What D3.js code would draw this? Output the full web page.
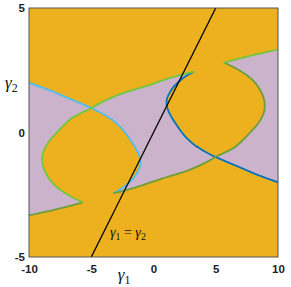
<!DOCTYPE html>
<html>
<head>
<meta charset="utf-8">
<script src="https://cdn.jsdelivr.net/npm/d3@7"></script>
<style>
  body { margin: 0; background: #fff; }
  svg { display: block; }
</style>
</head>
<body>
<script>
// tick labels
var gamma1Ticks = [-10, -5, 0, 5, 10];
var gamma2Ticks = [-5, 0, 5];

// left-hand boundary curves (the right-hand ones are the point reflection)
// light blue curve, left edge -> crossing
var blueOuterX = [-10, -8.31, -6.71, -4.96];
var blueOuterY = [2.0, 1.69, 1.35, 0.98];
// light blue curve, crossing -> meeting point with the lower green line
var blueInnerX = [-4.96, -4.34, -3.78, -3.29, -2.73, -2.25, -1.85, -1.49, -1.20, -1.06, -1.08, -1.29, -1.61, -2.09, -2.61, -3.23];
var blueInnerY = [0.98, 0.82, 0.66, 0.50, 0.26, -0.02, -0.30, -0.58, -0.86, -1.10, -1.35, -1.59, -1.83, -2.07, -2.27, -2.44];
// green curve, crossing -> upper end
var greenUpperX = [-4.96, -4.30, -2.85, -0.68, 1.33, 3.23];
var greenUpperY = [0.98, 1.18, 1.51, 1.85, 2.19, 2.44];
// green curve, crossing -> round the loop -> cusp
var greenLoopX = [-4.96, -6.55, -7.27, -7.79, -8.31, -8.67, -8.92, -8.92, -8.76, -8.47, -8.03, -7.47, -6.71, -5.66];
var greenLoopY = [0.98, 0.58, 0.26, -0.02, -0.30, -0.58, -0.90, -1.22, -1.51, -1.79, -2.07, -2.31, -2.55, -2.81];
// green tail, cusp -> left edge
var greenTailX = [-5.66, -7.83, -10];
var greenTailY = [-2.81, -3.09, -3.33];

// the gamma1 = gamma2 line
var diagX = [-5, 5];
var diagY = [-5, 5];

var W = 291, H = 287;
var ORANGE = '#EDB120', PURPLE = '#CBB3CC';
var LIGHTBLUE = '#4DBEEE', DARKBLUE = '#0072BD';
var GREEN = '#72C83C', OLIVE = '#6C9E3A';

var x = d3.scaleLinear().domain([-10, 10]).range([29, 278]);
var y = d3.scaleLinear().domain([-5, 5]).range([257, 8]);

function pts(xs, ys) { return xs.map(function(v, i) { return [v, ys[i]]; }); }
function flip(p) { return p.map(function(d) { return [-d[0], -d[1]]; }); }
function rev(p) { return p.slice().reverse(); }

var blueOuter = pts(blueOuterX, blueOuterY);
var blueInner = pts(blueInnerX, blueInnerY);
var greenUpper = pts(greenUpperX, greenUpperY);
var greenLoop = pts(greenLoopX, greenLoopY);
var greenTail = pts(greenTailX, greenTailY);

var line = d3.line()
  .x(function(d) { return x(d[0]); })
  .y(function(d) { return y(d[1]); })
  .curve(d3.curveCatmullRom.alpha(0.5));

// join several curve pieces into one closed path, keeping the corners
function region(pieces) {
  var p = d3.path(), first = true;
  var ctx = {
    moveTo: function(a, b) { if (first) p.moveTo(a, b); else p.lineTo(a, b); first = false; },
    lineTo: function(a, b) { p.lineTo(a, b); },
    bezierCurveTo: function(a, b, c, d, e, f) { p.bezierCurveTo(a, b, c, d, e, f); },
    closePath: function() {}
  };
  line.context(ctx);
  pieces.forEach(function(piece) { line(piece); });
  line.context(null);
  p.closePath();
  return p.toString();
}

var svg = d3.select('body').append('svg')
  .attr('width', W)
  .attr('height', H);

svg.append('defs').append('clipPath').attr('id', 'plot')
  .append('rect')
    .attr('x', x(-10)).attr('y', y(5))
    .attr('width', x(10) - x(-10)).attr('height', y(-5) - y(5));

var g = svg.append('g').attr('clip-path', 'url(#plot)');

g.append('rect')
  .attr('x', x(-10)).attr('y', y(5))
  .attr('width', x(10) - x(-10)).attr('height', y(-5) - y(5))
  .attr('fill', ORANGE);

var leftRegion = [blueOuter, greenLoop, greenTail];
var midRegion = [greenUpper, rev(flip(blueInner)), flip(greenUpper), rev(blueInner)];
var rightRegion = leftRegion.map(flip);

g.selectAll('path.region')
    .data([leftRegion, midRegion, rightRegion])
  .enter().append('path')
    .attr('class', 'region')
    .attr('d', region)
    .attr('fill', PURPLE);

var curves = [
  { p: blueOuter, c: LIGHTBLUE },
  { p: blueInner, c: LIGHTBLUE },
  { p: flip(blueOuter), c: DARKBLUE },
  { p: flip(blueInner), c: DARKBLUE },
  { p: flip(greenUpper), c: OLIVE },
  { p: flip(greenLoop), c: OLIVE },
  { p: greenTail, c: OLIVE },
  { p: greenUpper, c: GREEN },
  { p: greenLoop, c: GREEN },
  { p: flip(greenTail), c: GREEN }
];

g.selectAll('path.curve')
    .data(curves)
  .enter().append('path')
    .attr('class', 'curve')
    .attr('d', function(d) { return line(d.p); })
    .attr('fill', 'none')
    .attr('stroke', function(d) { return d.c; })
    .attr('stroke-width', 1.8)
    .attr('stroke-linejoin', 'round');

g.append('path')
  .attr('d', d3.line().x(function(d) { return x(d[0]); }).y(function(d) { return y(d[1]); })(pts(diagX, diagY)))
  .attr('stroke', '#000')
  .attr('stroke-width', 1.3)
  .attr('fill', 'none');

// box
svg.append('rect')
  .attr('x', x(-10)).attr('y', y(5))
  .attr('width', x(10) - x(-10)).attr('height', y(-5) - y(5))
  .attr('fill', 'none')
  .attr('stroke', '#555')
  .attr('stroke-width', 1);

// axes
var xAxis = svg.append('g')
  .attr('transform', 'translate(0,' + y(-5) + ')')
  .call(d3.axisBottom(x).tickValues(gamma1Ticks).tickSize(0).tickPadding(8)
    .tickFormat(function(d) { return String(d); }));
var yAxis = svg.append('g')
  .attr('transform', 'translate(' + x(-10) + ',0)')
  .call(d3.axisLeft(y).tickValues(gamma2Ticks).tickSize(0).tickPadding(4)
    .tickFormat(function(d) { return String(d); }));

[xAxis, yAxis].forEach(function(a) {
  a.select('.domain').remove();
  a.selectAll('text')
    .attr('fill', '#222')
    .style('font-family', '"Liberation Sans", Arial, sans-serif')
    .style('font-weight', 'bold')
    .style('font-size', '11.5px');
});

// math labels
function mathLabel(parts, px, py, size, anchor) {
  var t = svg.append('text')
    .attr('x', px).attr('y', py)
    .attr('text-anchor', anchor || 'start')
    .style('font-family', '"Liberation Serif", "DejaVu Serif", serif')
    .style('font-size', size + 'px')
    .attr('fill', '#111');
  parts.forEach(function(s) {
    var ts = t.append('tspan').text(s.t);
    if (s.sub) ts.style('font-size', (size * 0.7) + 'px').attr('dy', size * 0.22);
    if (s.up) ts.attr('dy', -size * 0.22);
    if (s.it) ts.style('font-style', 'italic');
  });
}

mathLabel([{ t: 'γ', it: true }, { t: '1', sub: true }], 124, 280, 17, 'middle');
mathLabel([{ t: 'γ', it: true }, { t: '2', sub: true }], 5, 88, 17);
mathLabel([{ t: 'γ', it: true }, { t: '1', sub: true }, { t: ' = ', up: true },
           { t: 'γ', it: true }, { t: '2', sub: true }], 110, 237, 14);
</script>
</body>
</html>
